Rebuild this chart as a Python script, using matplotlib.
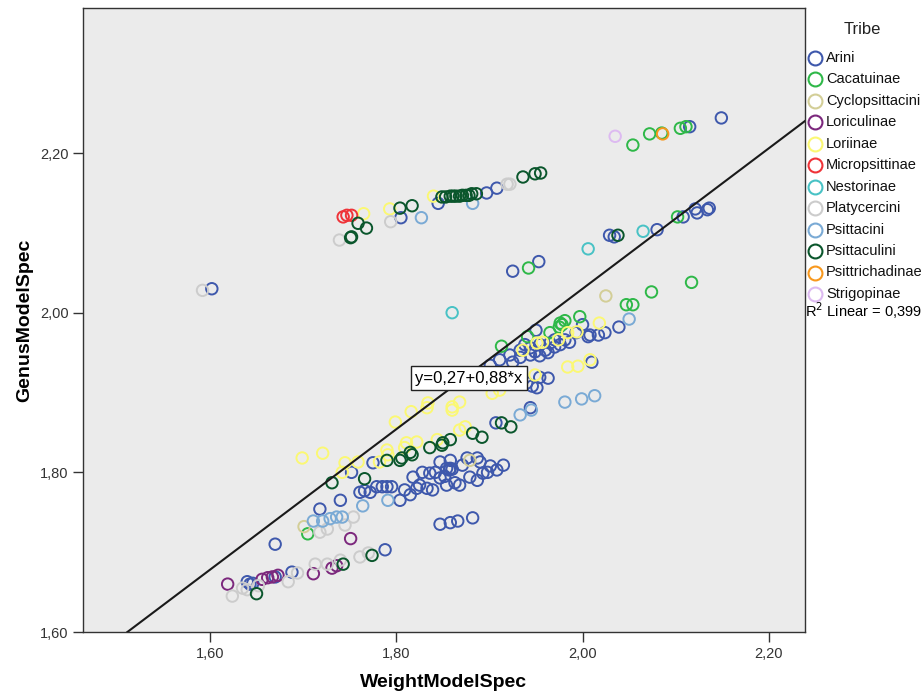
import numpy as np
import matplotlib
matplotlib.use("Agg")
import matplotlib.pyplot as plt
from matplotlib.ticker import FixedLocator, FuncFormatter
from matplotlib.lines import Line2D

plt.rcParams['font.family'] = ['Liberation Sans', 'DejaVu Sans']

# ---- data: (WeightModelSpec, GenusModelSpec) per tribe ----
tribes = ["Arini", "Cacatuinae", "Cyclopsittacini", "Loriculinae", "Loriinae",
          "Micropsittinae", "Nestorinae", "Platycercini", "Psittacini",
          "Psittaculini", "Psittrichadinae", "Strigopinae"]
tribe_colors = ["#3E58AC", "#2EB848", "#D3CE97", "#7C287D", "#FBF873", "#EF3338",
                "#48C2C5", "#CCCCCC", "#7AAAD5", "#0A562C", "#F8981D", "#DDBAF1"]

arini_x = [1.602, 1.805, 1.845, 1.897, 1.908, 2.115, 2.149, 1.925, 1.953, 2.029,
           2.034, 2.080, 2.108, 2.121, 2.123, 2.134, 2.136, 1.901, 1.925, 1.933,
           1.938, 1.944, 1.949, 1.954, 1.960, 1.965, 1.970, 1.976, 1.981, 1.986,
           1.933, 1.944, 1.954, 1.963, 1.993, 2.000, 2.006, 2.017, 2.024, 2.039,
           2.010, 1.963, 1.954, 1.940, 1.946, 1.951, 1.944, 1.907, 1.950, 2.008,
           1.922, 1.911, 1.970, 1.761, 1.766, 1.772, 1.779, 1.785, 1.790, 1.795,
           1.804, 1.815, 1.822, 1.833, 1.818, 1.828, 1.836, 1.842, 1.847, 1.852,
           1.854, 1.858, 1.857, 1.860, 1.854, 1.863, 1.868, 1.879, 1.887, 1.893,
           1.898, 1.908, 1.876, 1.887, 1.775, 1.752, 1.847, 1.858, 1.871, 1.890,
           1.901, 1.915, 1.847, 1.858, 1.866, 1.882, 1.740, 1.718, 1.788, 1.670,
           1.640, 1.643, 1.646, 1.670, 1.688, 1.825, 1.839, 1.809]
arini_y = [2.030, 2.119, 2.137, 2.150, 2.156, 2.233, 2.244, 2.052, 2.064, 2.097,
           2.095, 2.104, 2.120, 2.130, 2.125, 2.129, 2.131, 1.934, 1.938, 1.953,
           1.960, 1.956, 1.951, 1.960, 1.953, 1.962, 1.957, 1.960, 1.966, 1.963,
           1.944, 1.947, 1.946, 1.950, 1.975, 1.985, 1.970, 1.972, 1.975, 1.982,
           1.938, 1.918, 1.919, 1.912, 1.908, 1.906, 1.881, 1.862, 1.978, 1.972,
           1.947, 1.941, 1.966, 1.775, 1.777, 1.775, 1.782, 1.782, 1.782, 1.782,
           1.765, 1.772, 1.780, 1.780, 1.794, 1.800, 1.799, 1.800, 1.793, 1.795,
           1.805, 1.805, 1.803, 1.804, 1.784, 1.787, 1.784, 1.794, 1.790, 1.799,
           1.800, 1.803, 1.818, 1.818, 1.812, 1.800, 1.813, 1.815, 1.809, 1.813,
           1.808, 1.809, 1.735, 1.737, 1.739, 1.743, 1.765, 1.754, 1.703, 1.710,
           1.663, 1.660, 1.661, 1.669, 1.675, 1.784, 1.778, 1.778]

cacatuinae_x = [2.054, 2.072, 2.085, 2.105, 2.111, 1.942, 2.102, 1.913, 1.941, 1.965,
                1.976, 1.981, 1.997, 1.975, 2.047, 2.054, 2.074, 2.117, 1.978, 1.705]
cacatuinae_y = [2.210, 2.224, 2.225, 2.231, 2.233, 2.056, 2.120, 1.958, 1.970, 1.975,
                1.987, 1.990, 1.995, 1.982, 2.010, 2.010, 2.026, 2.038, 1.985, 1.723]

cyclops_x = [2.025, 1.701, 1.879]
cyclops_y = [2.021, 1.732, 1.815]

loriculinae_x = [1.619, 1.656, 1.667, 1.673, 1.662, 1.711, 1.731, 1.736, 1.751]
loriculinae_y = [1.660, 1.666, 1.669, 1.671, 1.668, 1.673, 1.680, 1.683, 1.717]

loriinae_x = [1.765, 1.793, 1.840, 1.699, 1.721, 1.745, 1.759, 1.742, 1.782, 1.791,
              1.799, 1.809, 1.816, 1.834, 1.833, 1.822, 1.844, 1.860, 1.868, 1.860,
              1.868, 1.874, 1.811, 1.790, 1.936, 1.951, 1.957, 1.974, 1.984, 1.984,
              1.995, 2.008, 1.949, 1.903, 1.911, 1.994, 2.018]
loriinae_y = [2.124, 2.130, 2.146, 1.818, 1.824, 1.812, 1.813, 1.800, 1.813, 1.822,
              1.863, 1.831, 1.876, 1.887, 1.881, 1.838, 1.841, 1.882, 1.888, 1.878,
              1.853, 1.857, 1.837, 1.828, 1.953, 1.962, 1.963, 1.966, 1.975, 1.932,
              1.933, 1.941, 1.922, 1.899, 1.903, 1.976, 1.987]

micro_x = [1.743, 1.747, 1.752]
micro_y = [2.120, 2.122, 2.122]

nestor_x = [2.006, 2.065, 1.860]
nestor_y = [2.080, 2.102, 2.000]

platy_x = [1.592, 1.739, 1.794, 1.919, 1.922, 1.624, 1.635, 1.640, 1.684, 1.694,
           1.713, 1.726, 1.740, 1.761, 1.770, 1.718, 1.726, 1.745, 1.754, 1.652]
platy_y = [2.028, 2.091, 2.114, 2.161, 2.161, 1.645, 1.655, 1.653, 1.663, 1.674,
           1.685, 1.685, 1.690, 1.694, 1.699, 1.725, 1.729, 1.734, 1.744, 1.658]

psittacini_x = [1.827, 1.882, 1.933, 1.945, 1.981, 1.999, 2.013, 2.050, 1.791, 1.764,
                1.711, 1.721, 1.729, 1.736, 1.742]
psittacini_y = [2.119, 2.137, 1.872, 1.878, 1.888, 1.892, 1.896, 1.992, 1.765, 1.758,
                1.739, 1.739, 1.742, 1.744, 1.744]

psittaculini_x = [1.759, 1.768, 1.752, 1.751, 1.804, 1.817, 1.849, 1.853, 1.858, 1.861,
                  1.864, 1.868, 1.871, 1.875, 1.878, 1.881, 1.886, 1.936, 1.949, 1.955,
                  2.038, 1.731, 1.766, 1.790, 1.804, 1.815, 1.817, 1.806, 1.836, 1.849,
                  1.858, 1.850, 1.882, 1.892, 1.913, 1.923, 1.650, 1.743, 1.774]
psittaculini_y = [2.112, 2.106, 2.095, 2.094, 2.131, 2.134, 2.145, 2.145, 2.146, 2.146,
                  2.146, 2.146, 2.147, 2.147, 2.147, 2.149, 2.149, 2.170, 2.174, 2.175,
                  2.097, 1.787, 1.792, 1.815, 1.815, 1.825, 1.822, 1.818, 1.831, 1.834,
                  1.841, 1.837, 1.849, 1.844, 1.862, 1.857, 1.648, 1.685, 1.696]

psittrich_x = [2.086]
psittrich_y = [2.224]

strigop_x = [2.035]
strigop_y = [2.221]

series_x = [arini_x, cacatuinae_x, cyclops_x, loriculinae_x, loriinae_x, micro_x,
            nestor_x, platy_x, psittacini_x, psittaculini_x, psittrich_x, strigop_x]
series_y = [arini_y, cacatuinae_y, cyclops_y, loriculinae_y, loriinae_y, micro_y,
            nestor_y, platy_y, psittacini_y, psittaculini_y, psittrich_y, strigop_y]

fit_intercept = 0.27
fit_slope = 0.88
r_squared = 0.399

x_ticks = [1.60, 1.80, 2.00, 2.20]
y_ticks = [1.60, 1.80, 2.00, 2.20]
x_limits = (1.4637, 2.2388)
y_limits = (1.60, 2.3817)

W, H = 924, 695

# ---- figure ----
fig = plt.figure(figsize=(W / 100, H / 100), dpi=100)
ax = fig.add_axes([83 / W, 63 / H, 722 / W, 624 / H])
ax.set_facecolor("#EBEBEB")

for xs, ys, col in zip(series_x, series_y, tribe_colors):
    ax.scatter(xs, ys, s=68, facecolors="none", edgecolors=col, linewidths=1.4,
               zorder=3)

# linear fit line
xl = np.array([(y_limits[0] - fit_intercept) / fit_slope, x_limits[1]])
ax.plot(xl, fit_intercept + fit_slope * xl, color="#1a1a1a", lw=1.5, zorder=4)

eq_label = "y={:.2f}+{:.2f}*x".format(fit_intercept, fit_slope).replace(".", ",")
ax.text(1.878, 1.918, eq_label, ha="center", va="center", fontsize=12,
        zorder=5,
        bbox=dict(boxstyle="square,pad=0.25", facecolor="white",
                  edgecolor="#222222", linewidth=1.0))

ax.set_xlim(*x_limits)
ax.set_ylim(*y_limits)
comma = FuncFormatter(lambda v, p: f"{v:.2f}".replace(".", ","))
ax.xaxis.set_major_locator(FixedLocator(x_ticks))
ax.yaxis.set_major_locator(FixedLocator(y_ticks))
ax.xaxis.set_major_formatter(comma)
ax.yaxis.set_major_formatter(comma)
ax.tick_params(direction="out", length=7, width=1, labelsize=10.5, colors="#333333",
               labelcolor="#333333")
for sp in ax.spines.values():
    sp.set_color("#333333")
    sp.set_linewidth(1.0)

ax.set_xlabel("WeightModelSpec", fontsize=14, fontweight="bold", labelpad=10)
ax.set_ylabel("GenusModelSpec", fontsize=14, fontweight="bold", labelpad=5)

# legend, laid out in figure pixels
fig.text(862 / W, 1 - 30 / H, "Tribe", fontsize=12, ha="center", va="center",
         color="#222222")
for i, (name, col) in enumerate(zip(tribes, tribe_colors)):
    yy = 1 - (58 + i * 21.45) / H
    fig.add_artist(Line2D([815 / W], [yy], transform=fig.transFigure, marker="o",
                          linestyle="none", markersize=10, markerfacecolor="none",
                          markeredgecolor=col, markeredgewidth=1.5))
    fig.text(826 / W, yy, name, fontsize=10.5, ha="left", va="center",
             color="#111111")

r2_label = "R$^2$ Linear = " + f"{r_squared:.3f}".replace(".", ",")
fig.text(805 / W, 1 - 311 / H, r2_label, fontsize=10.5, va="center", ha="left")

fig.savefig("out.png", dpi=100)
